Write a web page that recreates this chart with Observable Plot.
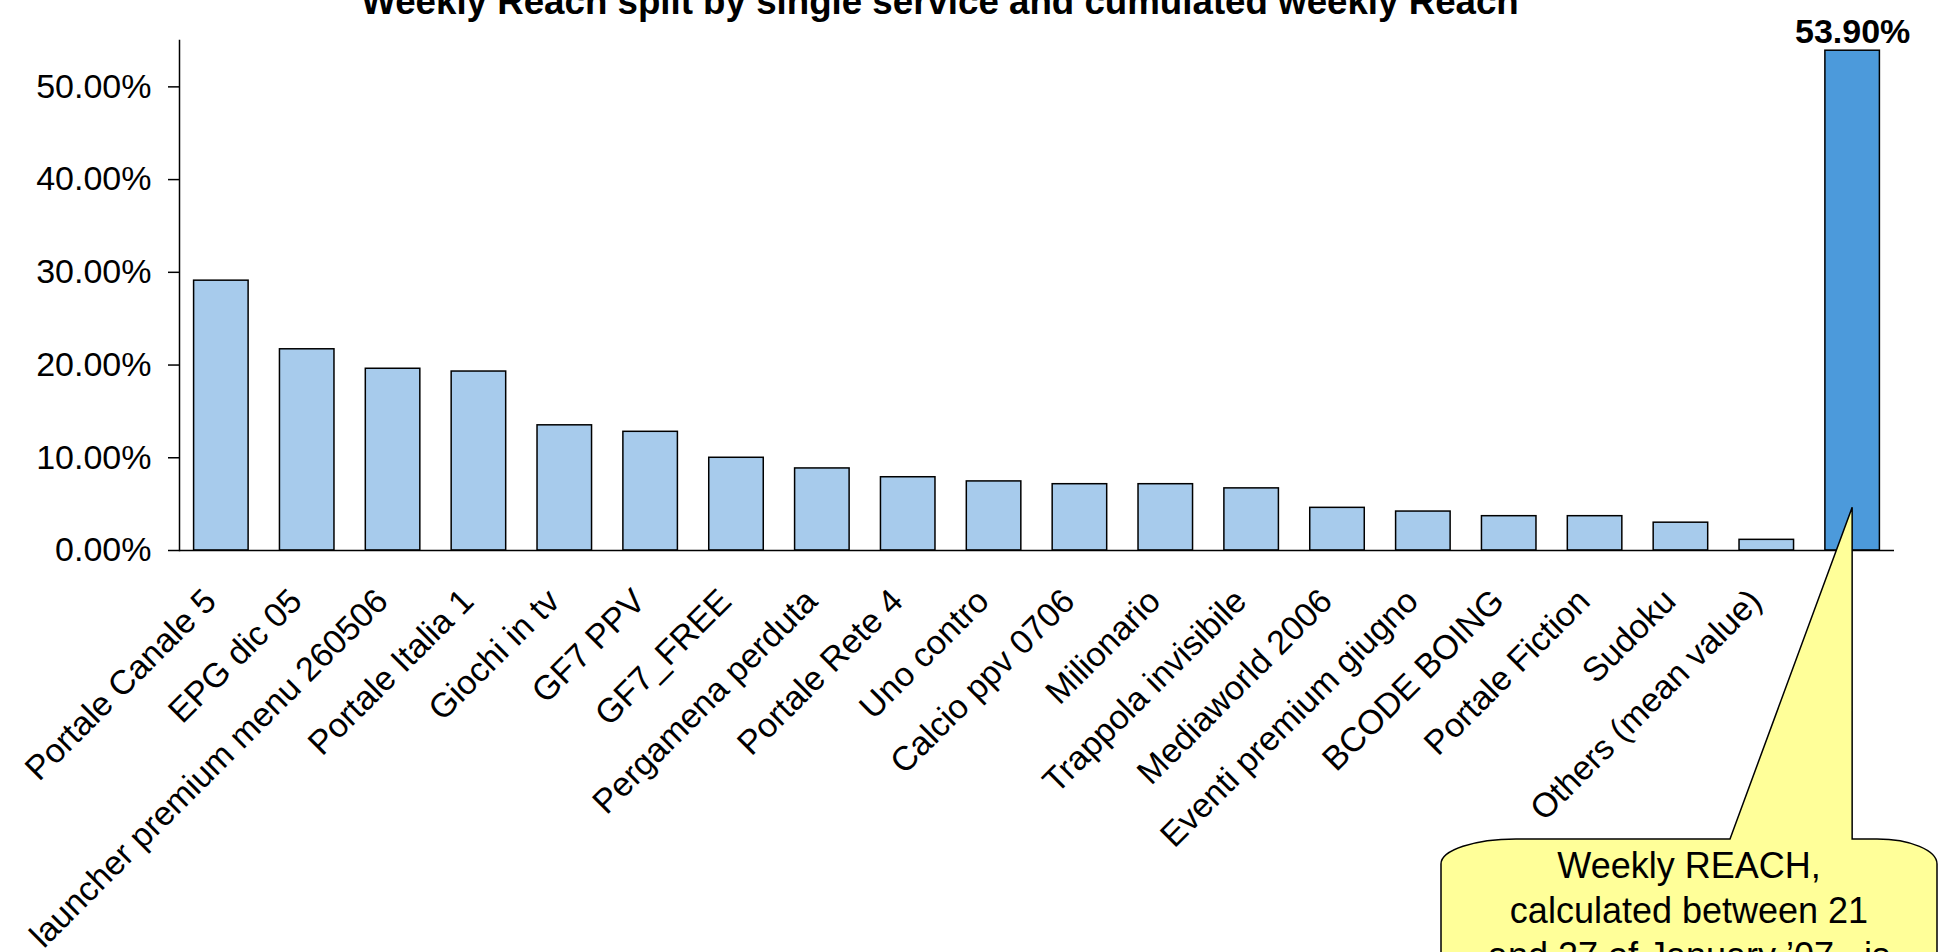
<!DOCTYPE html>
<html>
<head>
<meta charset="utf-8">
<script src="https://cdn.jsdelivr.net/npm/d3@7"></script>
<script src="https://cdn.jsdelivr.net/npm/@observablehq/plot@0.6"></script>
<style>
  html, body { margin: 0; padding: 0; background: #fff; overflow: hidden; }
  #wrap { position: relative; width: 1944px; height: 952px; overflow: hidden; }
  #title {
    position: absolute; top: -16px; left: 940px; transform: translateX(-50%);
    font-family: "Liberation Sans", Arial, sans-serif; font-weight: bold;
    font-size: 36.7px; line-height: 36px; white-space: nowrap; color: #000;
  }
  #callout { position: absolute; left: 0; top: 0; pointer-events: none; }
</style>
</head>
<body>
<div id="wrap">
  <div id="chart"></div>
  <div id="title">Weekly Reach split by single service and cumulated weekly Reach</div>
</div>
<script>
// ---- data ----
const categories = [
  "Portale Canale 5", "EPG dic 05", "launcher premium menu 260506", "Portale Italia 1",
  "Giochi in tv", "GF7 PPV", "GF7_FREE", "Pergamena perduta", "Portale Rete 4",
  "Uno contro", "Calcio ppv 0706", "Milionario", "Trappola invisibile",
  "Mediaworld 2006", "Eventi premium giugno", "BCODE BOING", "Portale Fiction",
  "Sudoku", "Others (mean value)", ""
];
const reach = [
  29.1, 21.7, 19.6, 19.3,
  13.5, 12.8, 10.0, 8.85, 7.9,
  7.45, 7.15, 7.15, 6.7,
  4.6, 4.2, 3.7, 3.7,
  3.0, 1.15, 53.9
];
const yTicks = [0, 10, 20, 30, 40, 50];
const yDomain = [0, 55];
const calloutLines = ["Weekly REACH,", "calculated between 21", "and 27 of January \u201907 , is"];
const calloutTipValue = 4.6;

const data = categories.map((c, i) => ({category: c, reach: reach[i], total: i === categories.length - 1}));
const services = data.filter(d => !d.total);
const totals = data.filter(d => d.total);
const pct = v => v.toFixed(2) + "%";

const chart = Plot.plot({
  width: 1944,
  height: 952,
  marginTop: 40,
  marginBottom: 402,
  marginLeft: 179,
  marginRight: 50,
  style: {fontFamily: "'Liberation Sans', Arial, sans-serif", fontSize: "34px", color: "#000", background: "transparent"},
  x: {domain: categories, paddingInner: 0.365, paddingOuter: 0.17, round: false, label: null},
  y: {domain: yDomain, label: null},
  marks: [
    Plot.barY(services, {x: "category", y: "reach", fill: "#A7CBEC", stroke: "#000", strokeWidth: 1.5}),
    Plot.barY(totals, {x: "category", y: "reach", fill: "#4C9ADB", stroke: "#000", strokeWidth: 1.5}),
    Plot.ruleY([0], {stroke: "#000", strokeWidth: 1.5}),
    Plot.frame({anchor: "left", stroke: "#000", strokeWidth: 1.5}),
    Plot.axisY({ticks: yTicks, tickSize: 11, tickPadding: 17, tickFormat: pct, label: null, stroke: "#000", strokeWidth: 1.5}),
    Plot.axisX({tickSize: 0, tickRotate: -45, tickPadding: 45, dx: -11, label: null}),
    Plot.text(totals, {x: "category", y: "reach", text: d => pct(d.reach), lineAnchor: "bottom", dy: -8, fontWeight: "bold", fill: "#000"})
  ]
});
document.getElementById("chart").appendChild(chart);

// ---- callout annotation anchored on the cumulated bar ----
const xs = chart.scale("x"), ys = chart.scale("y");
const last = categories[categories.length - 1];
const tipX = xs.apply(last) + xs.bandwidth / 2;
const tipY = ys.apply(calloutTipValue);
const boxL = 1441, boxR = 1937, boxT = 839, baseL = 1730;
const svg = d3.select("#wrap").append("svg")
  .attr("id", "callout").attr("width", 1944).attr("height", 952);
const p = `M${boxL},1000 L${boxL},${boxT + 25} A75,25 0 0 1 ${boxL + 75},${boxT} L${baseL},${boxT} L${tipX},${tipY} L${tipX},${boxT} L${boxR - 60},${boxT} A60,25 0 0 1 ${boxR},${boxT + 25} L${boxR},1000 Z`;
svg.append("path").attr("d", p).attr("fill", "#FFFF99").attr("stroke", "#000").attr("stroke-width", 1.5);
const cx = (boxL + boxR) / 2;
svg.selectAll("text.cl").data(calloutLines).join("text")
  .attr("x", cx).attr("y", (d, i) => 878 + i * 45)
  .attr("text-anchor", "middle")
  .attr("font-family", "'Liberation Sans', Arial, sans-serif")
  .attr("font-size", 36).attr("fill", "#000")
  .text(d => d);
</script>
</body>
</html>
